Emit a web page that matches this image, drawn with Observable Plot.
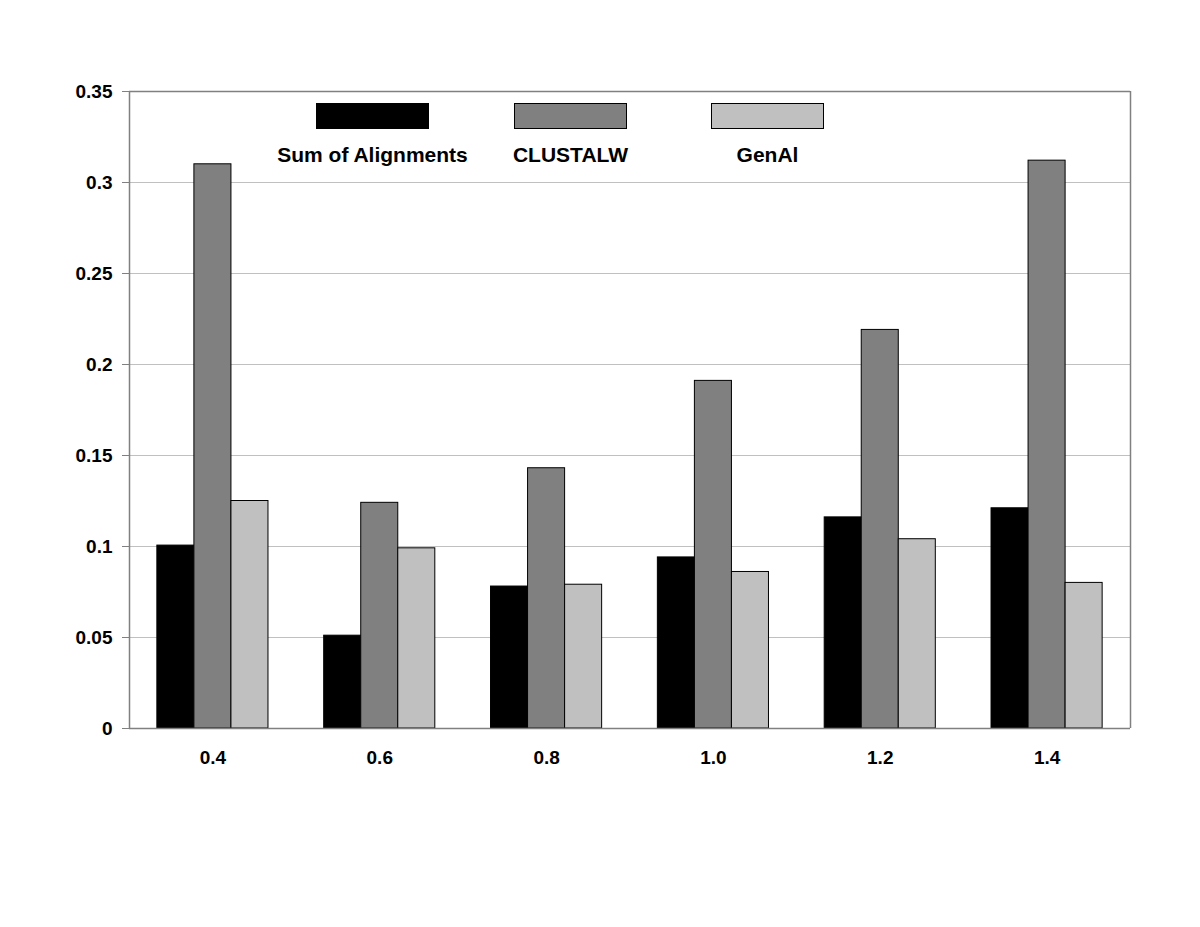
<!DOCTYPE html>
<html>
<head>
<meta charset="utf-8">
<script src="https://cdn.jsdelivr.net/npm/d3@7"></script>
<script src="https://cdn.jsdelivr.net/npm/@observablehq/plot@0.6"></script>
<style>
  html, body { margin: 0; padding: 0; background: #fff; }
  #wrap { position: relative; width: 1200px; height: 927px; font-family: "Liberation Sans", Arial, sans-serif; }
  .leg { position: absolute; top: 103px; width: 113px; height: 26px; box-sizing: border-box; border: 1px solid #000; }
  .legt { position: absolute; top: 143px; width: 260px; text-align: center; font-weight: bold; font-size: 21px; color: #000; }
</style>
</head>
<body>
<div id="wrap"></div>
<script>
const categories = ["0.4", "0.6", "0.8", "1.0", "1.2", "1.4"];
const seriesNames = ["Sum of Alignments", "CLUSTALW", "GenAl"];
const sumOfAlignments = [0.1005, 0.051, 0.078, 0.094, 0.116, 0.121];
const clustalw = [0.310, 0.124, 0.143, 0.191, 0.219, 0.312];
const genal = [0.125, 0.099, 0.079, 0.086, 0.104, 0.080];
const yTicks = [0, 0.05, 0.1, 0.15, 0.2, 0.25, 0.3, 0.35];
const seriesColors = ["#000000", "#808080", "#c0c0c0"];

const seriesValues = [sumOfAlignments, clustalw, genal];
const barW = 0.222;
const data = [];
categories.forEach((c, i) => {
  seriesNames.forEach((s, j) => {
    const x1 = i + 0.5 + (j - 1.5) * barW;
    data.push({cat: c, series: s, value: seriesValues[j][i], x1, x2: x1 + barW});
  });
});

const font = "Liberation Sans, Arial, sans-serif";
const chart = Plot.plot({
  width: 1200,
  height: 927,
  marginTop: 91,
  marginBottom: 199,
  marginLeft: 129,
  marginRight: 70,
  style: {fontFamily: font, fontSize: "19px", fontWeight: "bold", color: "#000", background: "#fff"},
  x: {type: "linear", domain: [0, categories.length]},
  y: {domain: [0, 0.35]},
  color: {domain: seriesNames, range: seriesColors},
  marks: [
    Plot.gridY(yTicks.slice(1, -1), {stroke: "#c0c0c0", strokeOpacity: 1, strokeWidth: 1}),
    Plot.ruleY([0.35], {stroke: "#808080", strokeWidth: 1.5}),
    Plot.ruleX([categories.length], {stroke: "#808080", strokeWidth: 1.5}),
    Plot.rectY(data, {x1: "x1", x2: "x2", y: "value", fill: "series", stroke: "#000", strokeWidth: 1}),
    Plot.ruleY([0], {stroke: "#808080", strokeWidth: 1.5}),
    Plot.ruleX([0], {stroke: "#808080", strokeWidth: 1.5}),
    Plot.axisY(yTicks, {tickSize: 7, tickPadding: 10, stroke: "#808080", fontSize: 19, fontWeight: "bold", label: null,
      tickFormat: d => d3.format("")(d)}),
    Plot.axisX(categories.map((c, i) => i + 0.5), {tickSize: 0, tickPadding: 22, fontSize: 19, fontWeight: "bold", label: null,
      tickFormat: d => categories[Math.round(d - 0.5)]})
  ]
});

const wrap = document.getElementById("wrap");
wrap.appendChild(chart);

const legX = [316, 514, 711];
seriesNames.forEach((s, j) => {
  const r = document.createElement("div");
  r.className = "leg";
  r.style.left = legX[j] + "px";
  r.style.background = seriesColors[j];
  wrap.appendChild(r);
  const t = document.createElement("div");
  t.className = "legt";
  t.style.left = (legX[j] + 56.5 - 130) + "px";
  t.textContent = s;
  wrap.appendChild(t);
});
</script>
</body>
</html>
